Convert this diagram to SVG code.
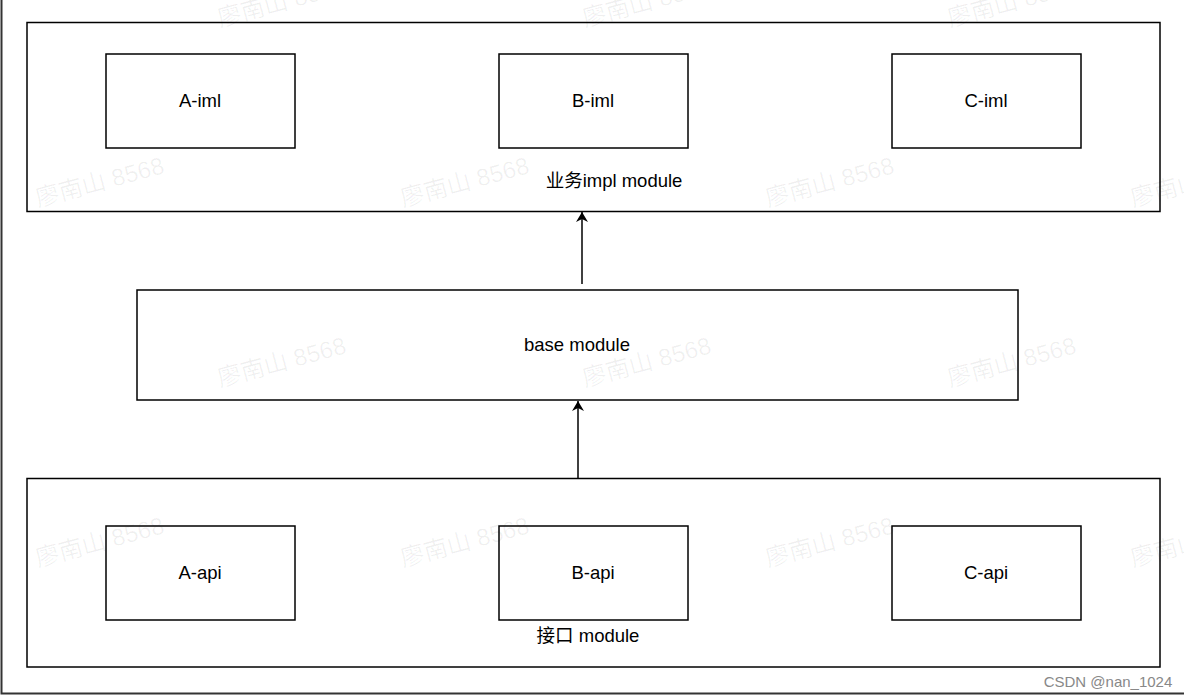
<svg xmlns="http://www.w3.org/2000/svg" width="1184" height="695" viewBox="0 0 1184 695">
<style>
.box{fill:#fff;stroke:#000;stroke-width:1.5}
.lbl{font-family:"Liberation Sans","Noto Sans CJK SC",Arial,sans-serif;font-size:18.5px;fill:#000;text-anchor:middle;dominant-baseline:central}
.wm{font-family:"Liberation Sans","Noto Sans CJK SC",sans-serif;font-size:24px;fill:#000;fill-opacity:0.06}
.edge{stroke:#000;stroke-width:1.5;fill:none}
</style>
<defs>
<marker id="arr" viewBox="0 0 10 12" refX="10" refY="6" markerWidth="10" markerHeight="12" markerUnits="userSpaceOnUse" orient="auto">
<path d="M0,0 L10,6 L0,12 L3,6 Z" fill="#000"/>
</marker>
</defs>
<rect width="1184" height="695" fill="#fff"/>
<path d="M1.5,0 V693.5 H1184" fill="none" stroke="#333" stroke-width="2"/>
<g id="impl-module">
<rect class="box" x="27" y="22.5" width="1133" height="189"/>
<text class="lbl" x="614" y="180">业务impl module</text>
</g>
<g id="A-iml"><rect class="box" x="106" y="54" width="189" height="94"/><text class="lbl" x="200" y="100">A-iml</text></g>
<g id="B-iml"><rect class="box" x="499" y="54" width="189" height="94"/><text class="lbl" x="593" y="100">B-iml</text></g>
<g id="C-iml"><rect class="box" x="892" y="54" width="189" height="94"/><text class="lbl" x="986" y="100">C-iml</text></g>
<g id="base-module">
<rect class="box" x="137" y="290" width="881" height="110"/>
<text class="lbl" x="577" y="344">base module</text>
</g>
<g id="api-module">
<rect class="box" x="27" y="478.5" width="1133" height="188.5"/>
<text class="lbl" x="588" y="635">接口 module</text>
</g>
<g id="A-api"><rect class="box" x="106" y="526" width="189" height="94"/><text class="lbl" x="200" y="572">A-api</text></g>
<g id="B-api"><rect class="box" x="499" y="526" width="189" height="94"/><text class="lbl" x="593" y="572">B-api</text></g>
<g id="C-api"><rect class="box" x="892" y="526" width="189" height="94"/><text class="lbl" x="986" y="572">C-api</text></g>
<g id="connectors">
<line class="edge" x1="582" y1="284" x2="582" y2="212" marker-end="url(#arr)"/>
<line class="edge" x1="578" y1="478" x2="578" y2="401" marker-end="url(#arr)"/>
</g>
<g id="watermarks">
<text class="wm" transform="translate(38,207) rotate(-15)">廖南山 8568</text>
<text class="wm" transform="translate(403,207) rotate(-15)">廖南山 8568</text>
<text class="wm" transform="translate(768,207) rotate(-15)">廖南山 8568</text>
<text class="wm" transform="translate(1133,207) rotate(-15)">廖南山 8568</text>
<text class="wm" transform="translate(220,387) rotate(-15)">廖南山 8568</text>
<text class="wm" transform="translate(585,387) rotate(-15)">廖南山 8568</text>
<text class="wm" transform="translate(950,387) rotate(-15)">廖南山 8568</text>
<text class="wm" transform="translate(38,567) rotate(-15)">廖南山 8568</text>
<text class="wm" transform="translate(403,567) rotate(-15)">廖南山 8568</text>
<text class="wm" transform="translate(768,567) rotate(-15)">廖南山 8568</text>
<text class="wm" transform="translate(1133,567) rotate(-15)">廖南山 8568</text>
<text class="wm" transform="translate(220,27) rotate(-15)">廖南山 8568</text>
<text class="wm" transform="translate(585,27) rotate(-15)">廖南山 8568</text>
<text class="wm" transform="translate(950,27) rotate(-15)">廖南山 8568</text>
</g>
<text x="1108" y="681" font-family="'Liberation Sans',sans-serif" font-size="15" fill="#888" text-anchor="middle" dominant-baseline="central">CSDN @nan_1024</text>
</svg>
